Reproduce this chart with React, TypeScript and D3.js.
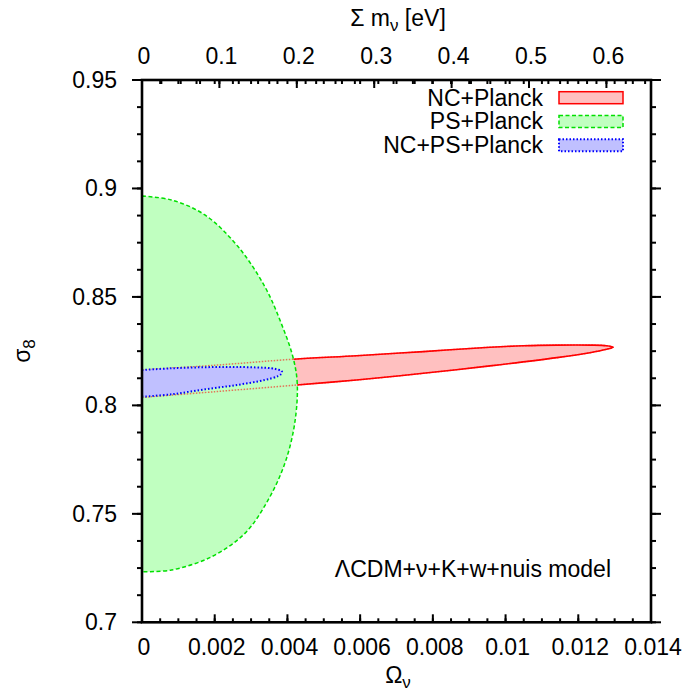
import React from "react";
import * as d3 from "d3";

// ---- data ----
// axis ticks
const xTicks = [0, 0.002, 0.004, 0.006, 0.008, 0.01, 0.012, 0.014];
const yTicks = [0.7, 0.75, 0.8, 0.85, 0.9, 0.95];
const topTicks = [0, 0.1, 0.2, 0.3, 0.4, 0.5, 0.6];
const xDomain = [0, 0.014];
const yDomain = [0.7, 0.95];
const topDomain = [0, 0.6576]; // Σ m_ν [eV] matching Ω_ν = 0.014

// NC+Planck contour: upper edge (Ω_ν, σ8) from Ω=0 to the tip, then lower edge back
const ncUpper: [number, number][] = [
  [0, 0.8163], [0.002, 0.8185], [0.00426, 0.8214], [0.0059, 0.8229], [0.00774, 0.8248],
  [0.00957, 0.8268], [0.01049, 0.8275], [0.01141, 0.8278], [0.01232, 0.8278],
  [0.01278, 0.8275], [0.01296, 0.8268],
];
const ncLower: [number, number][] = [
  [0.01278, 0.8259], [0.01232, 0.8243], [0.01141, 0.822], [0.00957, 0.8182],
  [0.00774, 0.8148], [0.0059, 0.8117], [0.00426, 0.8094], [0.002, 0.8063], [0, 0.8037],
];

// PS+Planck contour (half ellipse clipped at Ω=0)
const psContour: [number, number][] = [
  [0, 0.8965], [0.00081, 0.8947], [0.00173, 0.8878], [0.00264, 0.8732], [0.00338, 0.8547],
  [0.00383, 0.8378], [0.00415, 0.8224], [0.00427, 0.8102], [0.0042, 0.7917],
  [0.00393, 0.7733], [0.00347, 0.7564], [0.00283, 0.741], [0.00191, 0.7302],
  [0.00081, 0.7241], [0, 0.7233],
];

// NC+PS+Planck contour
const ncpsUpper: [number, number][] = [
  [0, 0.8163], [0.00081, 0.8171], [0.00173, 0.8176], [0.00261, 0.8177], [0.00356, 0.8171],
  [0.00374, 0.8165], [0.00383, 0.816], [0.00385, 0.8155],
];
const ncpsLower: [number, number][] = [
  [0.00383, 0.8145], [0.00374, 0.8135], [0.00338, 0.8117], [0.00261, 0.8094],
  [0.00173, 0.8074], [0.00081, 0.8051], [0, 0.804],
];

const legendLabels = ["NC+Planck", "PS+Planck", "NC+PS+Planck"];
const annotation = "ΛCDM+ν+K+w+nuis model";

// ---- styles ----
const FONT = "'Liberation Sans', Arial, Helvetica, sans-serif";
const FS = 23;
const SUB = 17;
const RED = "#ff0000", RED_FILL = "#ffc0c0";
const GREEN = "#00e000", GREEN_FILL = "#c0ffc0";
const BLUE = "#0000ff", BLUE_FILL = "#c0c0ff";

export default function App() {
  const W = 686, H = 697;
  const L = 142, R = 651, T = 80, B = 622.3;
  const x = d3.scaleLinear().domain(xDomain).range([L, R]);
  const y = d3.scaleLinear().domain(yDomain).range([B, T]);
  const xt = d3.scaleLinear().domain(topDomain).range([L, R]);

  const line = d3
    .line<[number, number]>()
    .x((d) => x(d[0]))
    .y((d) => y(d[1]))
    .curve(d3.curveCatmullRom.alpha(0.5));

  const ncPath = line([...ncUpper, ...ncLower]) + "Z";
  const psPath = line(psContour) + "Z";
  const ncpsPath = line([...ncpsUpper, ...ncpsLower]) + "Z";

  const xMinor = d3.range(0, 0.01401, 0.0005);
  const yMinor = d3.range(0.7, 0.9501, 0.0125);
  const topMinor = d3.range(0, 0.6576, 0.025);
  const fmt = (v: number) => String(+v.toFixed(4));

  const legendStyles = [
    { fill: RED_FILL, stroke: RED, dash: "none", sw: 1.5 },
    { fill: GREEN_FILL, stroke: GREEN, dash: "4,2.5", sw: 1.5 },
    { fill: BLUE_FILL, stroke: BLUE, dash: "1.5,2", sw: 2 },
  ];

  return (
    <svg
      width={W}
      height={H}
      style={{ position: "absolute", left: 0, top: 0, background: "#fff" }}
      fontFamily={FONT}
    >
      <rect x={0} y={0} width={W} height={H} fill="#fff" />
      <defs>
        <clipPath id="plot">
          <rect x={L} y={T} width={R - L} height={B - T} />
        </clipPath>
      </defs>

      <g clipPath="url(#plot)">
        <path d={ncPath} fill={RED_FILL} stroke={RED} strokeWidth={1.6} />
        <path d={psPath} fill={GREEN_FILL} stroke="none" />
        <path
          d={ncPath}
          fill="none"
          stroke={RED}
          strokeOpacity={0.55}
          strokeWidth={1.5}
          strokeDasharray="1.5,1.5"
        />
        <path d={psPath} fill="none" stroke={GREEN} strokeWidth={1.5} strokeDasharray="4,2.5" />
        <path d={ncpsPath} fill={BLUE_FILL} stroke={BLUE} strokeWidth={2} strokeDasharray="1.5,2" />
      </g>

      {/* ticks */}
      <g stroke="#000">
        {xMinor.map((v, i) => (
          <g key={"xm" + i}>
            <line x1={x(v)} x2={x(v)} y1={B} y2={B - 4} strokeWidth={2} />
            <line x1={x(v)} x2={x(v)} y1={T} y2={T + 4} strokeWidth={2} />
          </g>
        ))}
        {xTicks.map((v, i) => (
          <line key={"xM" + i} x1={x(v)} x2={x(v)} y1={B} y2={B - 8} strokeWidth={2} />
        ))}
        {topMinor.map((v, i) => (
          <line key={"tm" + i} x1={xt(v)} x2={xt(v)} y1={T} y2={T + 4} strokeWidth={2} />
        ))}
        {topTicks.map((v, i) => (
          <line key={"tM" + i} x1={xt(v)} x2={xt(v)} y1={T} y2={T + 8} strokeWidth={2} />
        ))}
        {yMinor.map((v, i) => (
          <g key={"ym" + i}>
            <line x1={L} x2={L - 5} y1={y(v)} y2={y(v)} strokeWidth={2} />
            <line x1={R} x2={R + 5} y1={y(v)} y2={y(v)} strokeWidth={2} />
          </g>
        ))}
        {yTicks.map((v, i) => (
          <g key={"yM" + i}>
            <line x1={L} x2={L - 10} y1={y(v)} y2={y(v)} strokeWidth={2} />
            <line x1={R} x2={R + 10} y1={y(v)} y2={y(v)} strokeWidth={2} />
          </g>
        ))}
      </g>

      {/* frame */}
      <rect x={L} y={T} width={R - L} height={B - T} fill="none" stroke="#000" strokeWidth={2.6} />

      {/* tick labels */}
      <g fontSize={FS} fill="#000">
        {xTicks.map((v, i) => (
          <text key={"xl" + i} x={x(v) + 2} y={655} textAnchor="middle">
            {fmt(v)}
          </text>
        ))}
        {topTicks.map((v, i) => (
          <text key={"tl" + i} x={xt(v) + 2} y={64} textAnchor="middle">
            {fmt(v)}
          </text>
        ))}
        {yTicks.map((v, i) => (
          <text key={"yl" + i} x={117} y={y(v) + 8} textAnchor="end">
            {fmt(v)}
          </text>
        ))}
      </g>

      {/* axis titles */}
      <text x={398} y={26} fontSize={FS} textAnchor="middle">
        Σ m<tspan dy={5} fontSize={SUB}>ν</tspan>
        <tspan dy={-5}> [eV]</tspan>
      </text>
      <text x={398} y={683} fontSize={FS} textAnchor="middle">
        Ω<tspan dy={5} fontSize={SUB}>ν</tspan>
      </text>
      <text transform="translate(30,351) rotate(-90)" fontSize={FS} textAnchor="middle">
        σ<tspan dy={5} fontSize={SUB}>8</tspan>
      </text>

      {/* legend */}
      {legendLabels.map((lab, i) => {
        const cy = 97.7 + i * 23.8;
        const s = legendStyles[i];
        return (
          <g key={"lg" + i}>
            <text x={543} y={cy + 7.8} fontSize={FS} textAnchor="end">
              {lab}
            </text>
            <rect
              x={559}
              y={cy - 6}
              width={64}
              height={12}
              fill={s.fill}
              stroke={s.stroke}
              strokeWidth={s.sw}
              strokeDasharray={s.dash}
            />
          </g>
        );
      })}

      {/* annotation */}
      <text x={611} y={577} fontSize={FS} textAnchor="end">
        {annotation}
      </text>
    </svg>
  );
}
